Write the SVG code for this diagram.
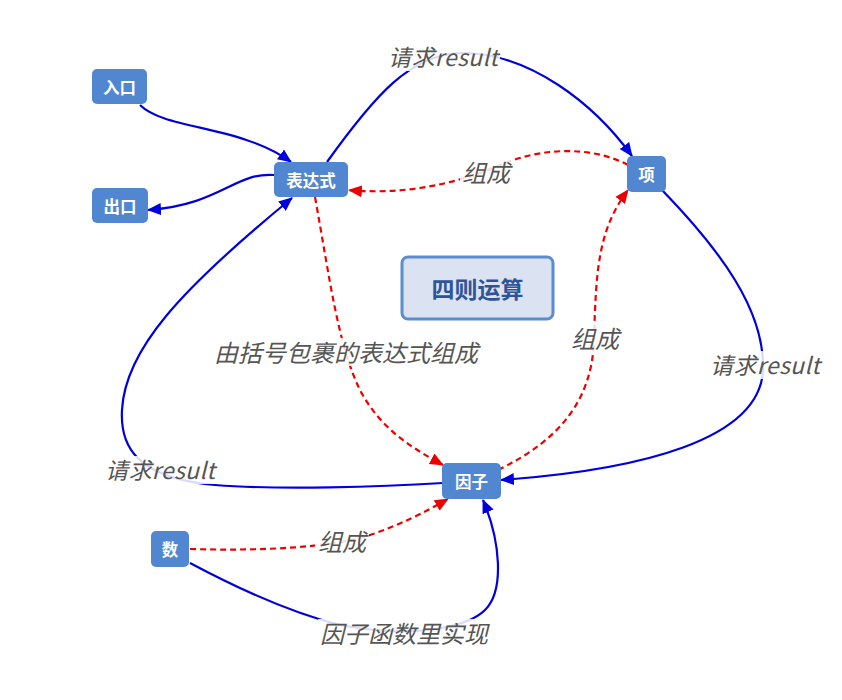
<svg xmlns="http://www.w3.org/2000/svg" width="842" height="700" viewBox="0 0 842 700">
<style>
.node rect{fill:#5087d0;}
.node text{fill:#fff;font-family:"Noto Sans CJK SC","Noto Sans",sans-serif;font-weight:bold;font-size:16.5px;text-anchor:middle;dominant-baseline:central;}
.blue{fill:none;stroke:#0000dd;stroke-width:2.2;}
.red{fill:none;stroke:#ee0000;stroke-width:2.2;stroke-dasharray:6,4;}
.lbl{fill:#555;font-family:"Noto Sans CJK SC","Noto Sans",sans-serif;font-style:italic;font-size:24px;text-anchor:middle;dominant-baseline:central;}
.lbl.r{font-size:23px;}
.lbg{fill:#fff;fill-opacity:0.85;}
</style>
<defs>
<marker id="ab" markerWidth="14" markerHeight="12" refX="13" refY="6" orient="auto" markerUnits="userSpaceOnUse"><path d="M0,0 L14,6 L0,12 Z" fill="#0000dd"/></marker>
<marker id="ar" markerWidth="14" markerHeight="12" refX="13" refY="6" orient="auto" markerUnits="userSpaceOnUse"><path d="M0,0 L14,6 L0,12 Z" fill="#ee0000"/></marker>
</defs>
<rect width="842" height="700" fill="#fff"/>
<g id="connectors">
<path class="blue" marker-end="url(#ab)" d="M140,105 C165,130 240,125 291,162"/>
<path class="blue" marker-end="url(#ab)" d="M274,175 C235,172 220,205 148,210"/>
<path class="blue" marker-end="url(#ab)" d="M327,162 C375,95 410,55 460,53 C530,52 595,105 632,156"/>
<path class="red" marker-end="url(#ar)" d="M628,165 C590,145 540,148 500,165 C455,185 400,195 349,190"/>
<path class="red" marker-end="url(#ar)" d="M315,197 C330,280 338,345 360,390 C380,428 410,447 443,465"/>
<path class="red" marker-end="url(#ar)" d="M498,470 C560,440 592,400 594,340 C596,270 598,230 628,190"/>
<path class="blue" marker-end="url(#ab)" d="M662,190 C720,250 765,310 763,370 C760,440 640,470 501,480"/>
<path class="blue" marker-end="url(#ab)" d="M443,483 C380,487 280,490 215,485 C135,478 120,445 122,410 C125,350 180,290 292,198"/>
<path class="red" marker-end="url(#ar)" d="M190,549 C260,551 330,548 370,535 C400,525 425,512 448,499"/>
<path class="blue" marker-end="url(#ab)" d="M190,563 C250,595 300,615 340,625 C420,640 470,625 485,610 C505,590 500,540 483,500"/>
</g>
<g id="labels">
<rect class="lbg" x="386" y="43" width="114" height="28"/>
<text class="lbl r" x="443" y="56" textLength="110">请求result</text>
<rect class="lbg" x="460" y="158" width="52" height="28"/>
<text class="lbl" x="486" y="171">组成</text>
<rect class="lbg" x="212" y="338" width="268" height="28"/>
<text class="lbl" x="346" y="351">由括号包裹的表达式组成</text>
<rect class="lbg" x="569" y="324" width="52" height="28"/>
<text class="lbl" x="595" y="337">组成</text>
<rect class="lbg" x="708" y="351" width="114" height="28"/>
<text class="lbl r" x="765" y="364" textLength="110">请求result</text>
<rect class="lbg" x="103" y="456" width="114" height="28"/>
<text class="lbl r" x="160" y="469" textLength="110">请求result</text>
<rect class="lbg" x="315" y="527" width="54" height="28"/>
<text class="lbl" x="342" y="540">组成</text>
<rect class="lbg" x="318" y="619" width="172" height="28"/>
<text class="lbl" x="404" y="632">因子函数里实现</text>
</g>
<g id="n-entry" class="node"><rect x="92" y="69" width="55" height="35" rx="5"/><text x="119.5" y="87">入口</text></g>
<g id="n-exit" class="node"><rect x="92" y="188" width="56" height="35" rx="5"/><text x="120" y="206">出口</text></g>
<g id="n-expr" class="node"><rect x="274" y="162" width="74" height="35" rx="5"/><text x="311" y="180">表达式</text></g>
<g id="n-term" class="node"><rect x="627" y="156" width="39" height="36" rx="5"/><text x="646.5" y="174">项</text></g>
<g id="n-factor" class="node"><rect x="442" y="463" width="59" height="36" rx="5"/><text x="471.5" y="481">因子</text></g>
<g id="n-num" class="node"><rect x="151" y="531" width="38" height="36" rx="5"/><text x="170" y="549">数</text></g>
<g id="n-title"><rect x="402" y="257" width="151" height="62" rx="6" fill="#dbe3f2" stroke="#5b8bd0" stroke-width="3"/><text x="477.5" y="288" font-family="'Noto Sans CJK SC','Noto Sans',sans-serif" font-weight="bold" font-size="23" fill="#2e5597" text-anchor="middle" dominant-baseline="central">四则运算</text></g>
</svg>
